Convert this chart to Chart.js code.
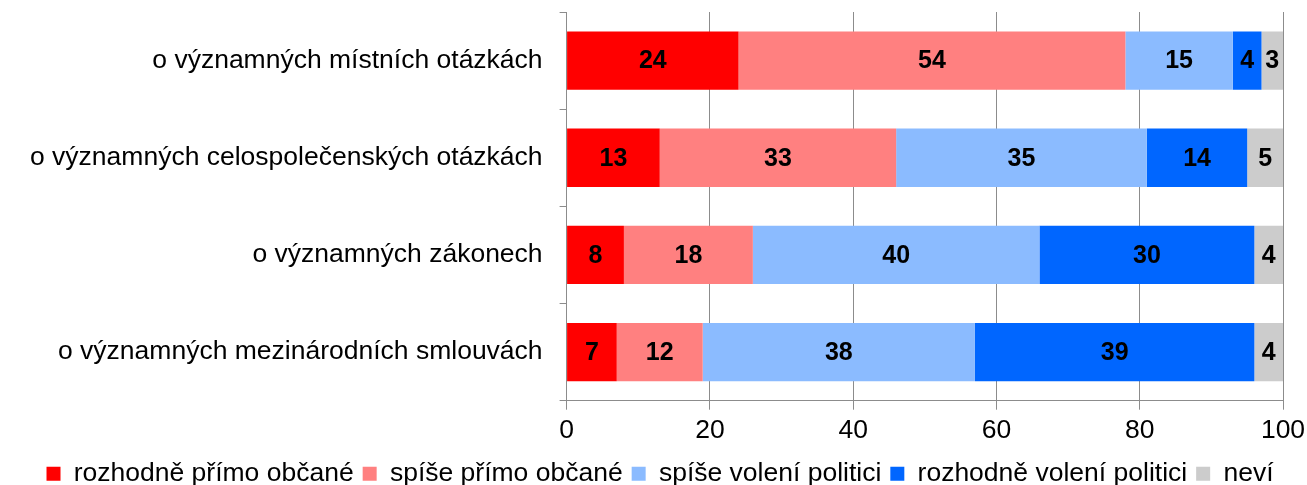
<!DOCTYPE html>
<html>
<head>
<meta charset="utf-8">
<script src="https://cdn.jsdelivr.net/npm/chart.js@4"></script>
<style>
  html, body { margin: 0; padding: 0; background: #fff; }
  #wrap { width: 1307px; height: 485px; }
</style>
</head>
<body>
<div id="wrap"><canvas id="chart" width="1307" height="485"></canvas></div>
<script>
// Data
const categories = [
  'o významných místních otázkách',
  'o významných celospolečenských otázkách',
  'o významných zákonech',
  'o významných mezinárodních smlouvách'
];
const seriesNames = ['rozhodně přímo občané', 'spíše přímo občané', 'spíše volení politici', 'rozhodně volení politici', 'neví'];
const rozhodneObcane = [24, 13, 8, 7];
const spiseObcane = [54, 33, 18, 12];
const spisePolitici = [15, 35, 40, 38];
const rozhodnePolitici = [4, 14, 30, 39];
const nevi = [3, 5, 4, 4];
const xTicks = [0, 20, 40, 60, 80, 100];

const colors = ['#FF0000', '#FF8080', '#8BBBFF', '#0066FF', '#CCCCCC'];
const FONT = '"Liberation Sans", Arial, sans-serif';

// ─── inline value labels ─────────────────────────────────────────────────────
const barLabels = {
  id: 'barLabels',
  afterDatasetsDraw(chart) {
    const ctx = chart.ctx;
    ctx.save();
    ctx.font = 'bold 25px ' + FONT;
    ctx.fillStyle = '#000';
    ctx.textAlign = 'center';
    ctx.textBaseline = 'middle';
    chart.data.datasets.forEach((ds, i) => {
      chart.getDatasetMeta(i).data.forEach((bar, j) => {
        const p = bar.getProps(['x', 'y', 'base'], true);
        ctx.fillText(String(ds.data[j]), (p.x + p.base) / 2, p.y + 1);
      });
    });
    ctx.restore();
  }
};

const seriesData = [rozhodneObcane, spiseObcane, spisePolitici, rozhodnePolitici, nevi];

new Chart(document.getElementById('chart'), {
  type: 'bar',
  data: {
    labels: categories,
    datasets: seriesNames.map((name, i) => ({
      label: name,
      data: seriesData[i],
      backgroundColor: colors[i],
      borderWidth: 0,
      categoryPercentage: 0.6,
      barPercentage: 1.0,
    })),
  },
  options: {
    indexAxis: 'y',
    responsive: false,
    animation: false,
    layout: { padding: { top: 12, right: 0, left: 13, bottom: -12 } },
    scales: {
      x: {
        stacked: true,
        min: 0,
        max: 100,
        afterFit: scale => { scale.paddingRight = 24; },
        afterBuildTicks: axis => { axis.ticks = xTicks.map(v => ({ value: v })); },
        grid: { color: '#8c8c8c', lineWidth: 1, tickLength: 9, drawTicks: true },
        border: { color: '#8c8c8c' },
        ticks: { color: '#000', font: { family: FONT, size: 26.5 }, padding: 5 },
      },
      y: {
        stacked: true,
        afterFit: scale => { scale.paddingTop = 0; scale.paddingBottom = 0; },
        grid: { offset: true, drawOnChartArea: false, color: '#8c8c8c', tickLength: 7 },
        border: { color: '#8c8c8c' },
        ticks: { color: '#000', font: { family: FONT, size: 26.5 }, padding: 17 },
      },
    },
    plugins: {
      legend: {
        position: 'bottom',
        labels: {
          color: '#000',
          font: { family: FONT, size: 26.5 },
          boxWidth: 14,
          boxHeight: 14,
          padding: 9,
        },
      },
      tooltip: { enabled: false },
    },
  },
  plugins: [barLabels],
});
</script>
</body>
</html>
